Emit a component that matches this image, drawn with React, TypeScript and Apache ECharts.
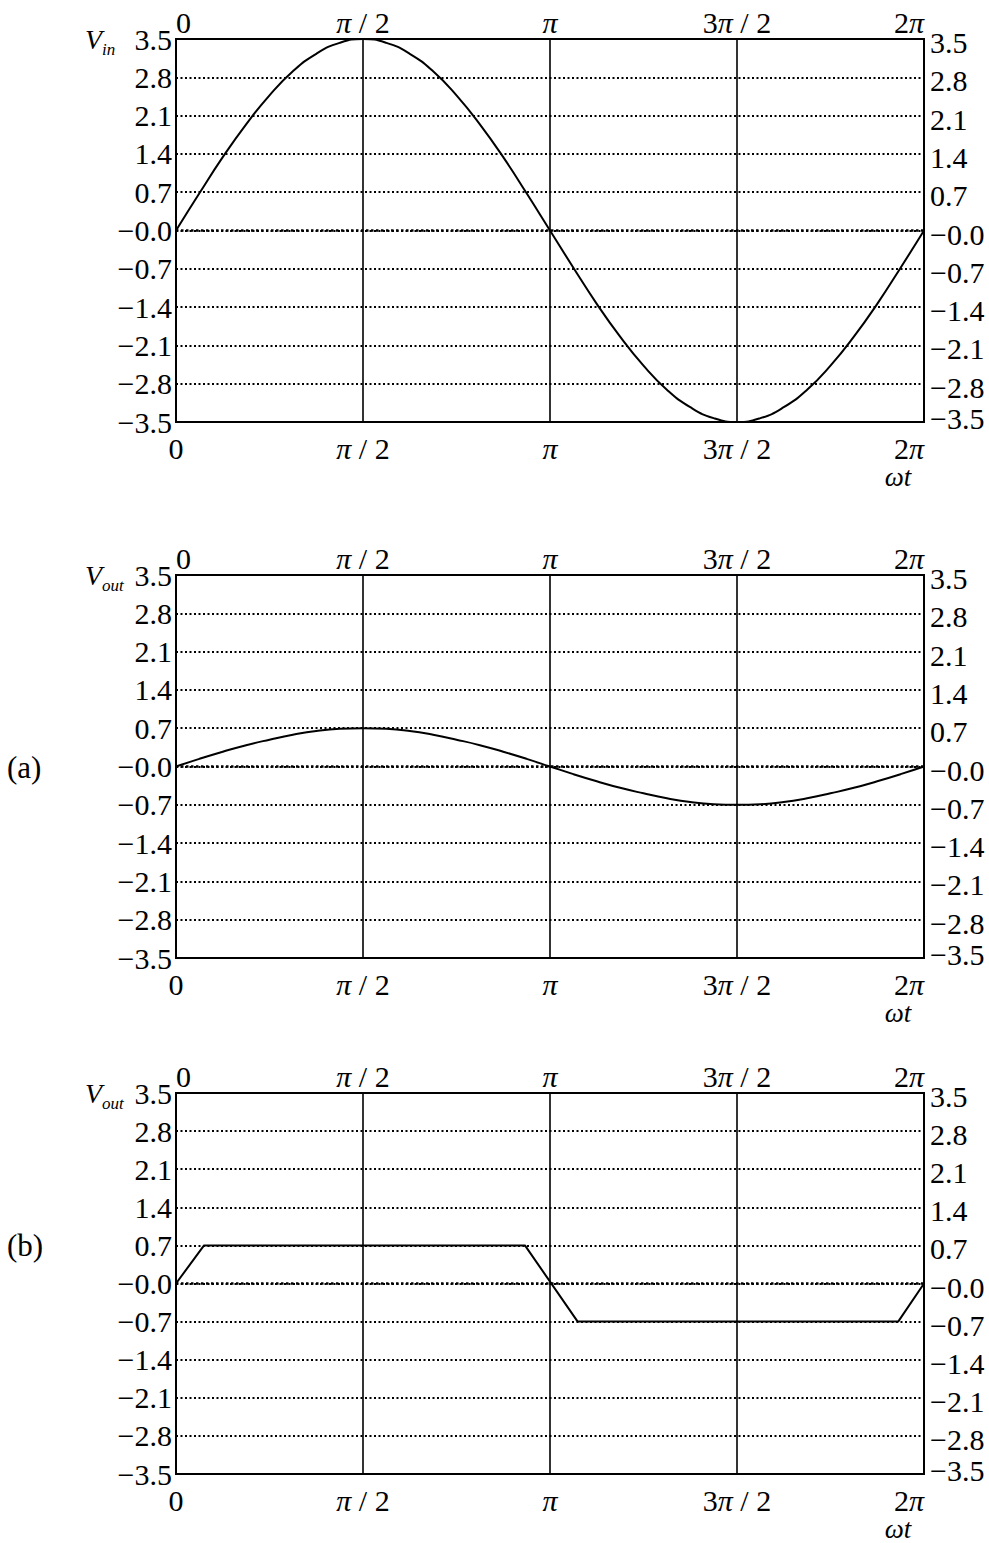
import React, { useEffect, useRef } from 'react';
import * as echarts from 'echarts';

// x positions in units of π
const phaseSine = [0, 0.0625, 0.125, 0.1875, 0.25, 0.3125, 0.375, 0.4375, 0.5, 0.5625, 0.625, 0.6875, 0.75, 0.8125, 0.875, 0.9375, 1, 1.0625, 1.125, 1.1875, 1.25, 1.3125, 1.375, 1.4375, 1.5, 1.5625, 1.625, 1.6875, 1.75, 1.8125, 1.875, 1.9375, 2];
const vin = [0, 0.68, 1.34, 1.94, 2.47, 2.91, 3.23, 3.43, 3.5, 3.43, 3.23, 2.91, 2.47, 1.94, 1.34, 0.68, 0, -0.68, -1.34, -1.94, -2.47, -2.91, -3.23, -3.43, -3.5, -3.43, -3.23, -2.91, -2.47, -1.94, -1.34, -0.68, 0];
const voutA = [0, 0.14, 0.27, 0.39, 0.49, 0.58, 0.65, 0.69, 0.7, 0.69, 0.65, 0.58, 0.49, 0.39, 0.27, 0.14, 0, -0.14, -0.27, -0.39, -0.49, -0.58, -0.65, -0.69, -0.7, -0.69, -0.65, -0.58, -0.49, -0.39, -0.27, -0.14, 0];
const phaseClip = [0, 0.075, 0.933, 1.074, 1.931, 2];
const voutB = [0, 0.7, 0.7, -0.7, -0.7, 0];

const xTickLabels = ['0', '{i|π} / 2', '{i|π}', '3{i|π} / 2', '2{i|π}'];
const panelLabels = ['', '(a)', '(b)'];
const yLabelNames = ['in', 'out', 'out'];
const xAxisName = 'ωt';

const FONT = 'Liberation Serif';
const FS = 30;

const panels = [
  { top: 39, height: 383, x: phaseSine, y: vin, smooth: true },
  { top: 575, height: 383, x: phaseSine, y: voutA, smooth: true },
  { top: 1093, height: 381, x: phaseClip, y: voutB, smooth: false },
];
const LEFT = 176;
const WIDTH = 748;

const fmtY = (v: number) => {
  const r = Math.round(v * 10) / 10;
  if (r <= 0) return '\u2212' + Math.abs(r).toFixed(1);
  return r.toFixed(1);
};
const fmtX = (v: number) => xTickLabels[Math.round(v / 0.5)] ?? '';

export default function App() {
  const ref = useRef<HTMLDivElement>(null);
  useEffect(() => {
    if (!ref.current) return;
    const chart = echarts.init(ref.current, null, { renderer: 'svg' });
    const rich = { i: { fontStyle: 'italic', fontFamily: FONT, fontSize: FS, color: '#000' } };
    const grids: any[] = [];
    const xAxes: any[] = [];
    const yAxes: any[] = [];
    const series: any[] = [];
    const graphics: any[] = [];
    panels.forEach((p, k) => {
      grids.push({ left: LEFT, top: p.top, width: WIDTH, height: p.height, show: true, borderColor: '#000', borderWidth: 2, containLabel: false });
      const baseX = {
        type: 'value', gridIndex: k, min: 0, max: 2, interval: 0.5,
        axisLine: { show: false }, axisTick: { show: false },
      };
      xAxes.push({
        ...baseX, position: 'bottom',
        splitLine: { show: true, lineStyle: { color: '#000', width: 1.6, type: 'solid' } },
        axisLabel: { show: true, showMinLabel: true, showMaxLabel: true, margin: 11, formatter: fmtX, color: '#000', fontFamily: FONT, fontSize: FS, rich, alignMaxLabel: 'right' },
      });
      xAxes.push({
        ...baseX, position: 'top',
        splitLine: { show: false },
        axisLabel: { show: true, showMinLabel: true, showMaxLabel: true, margin: 2, formatter: fmtX, color: '#000', fontFamily: FONT, fontSize: FS, rich, alignMinLabel: 'left', alignMaxLabel: 'right' },
      });
      const baseY = {
        type: 'value', gridIndex: k, min: -3.5, max: 3.5, interval: 0.7,
        axisLine: { show: false }, axisTick: { show: false },
      };
      yAxes.push({
        ...baseY, position: 'left',
        splitLine: { show: true, lineStyle: { color: '#000', width: 2, type: [2, 2.5] } },
        axisLabel: { show: true, showMinLabel: true, showMaxLabel: true, margin: 4, formatter: fmtY, color: '#000', fontFamily: FONT, fontSize: FS },
      });
      const rs = { fontFamily: FONT, fontSize: FS, color: '#000', lineHeight: 30 };
      yAxes.push({
        ...baseY, position: 'right',
        splitLine: { show: false },
        axisLabel: {
          show: true, showMinLabel: true, showMaxLabel: true, margin: 6, color: '#000', fontFamily: FONT, fontSize: FS,
          formatter: (v: number) => {
            const s = fmtY(v);
            if (Math.abs(v + 3.5) < 1e-6) return `{up|${s}}`;
            return `{dn|${s}}`;
          },
          rich: {
            up: { ...rs, padding: [0, 0, 7, 0] },
            dn: { ...rs, padding: [7, 0, 0, 0] },
          },
        },
      });
      series.push({
        type: 'line', xAxisIndex: k * 2, yAxisIndex: k * 2,
        data: p.x.map((xv, i) => [xv, p.y[i]]),
        showSymbol: false, symbol: 'none', smooth: p.smooth,
        lineStyle: { color: '#000', width: 2 },
        markLine: {
          silent: true, symbol: 'none', label: { show: false },
          lineStyle: { color: '#000', width: 2.6, type: [2.5, 2.5] },
          data: [{ yAxis: 0 }],
        },
        z: 5,
      });
      const bottom = p.top + p.height;
      graphics.push({ type: 'text', x: 85, y: p.top, style: { text: 'V', fill: '#000', font: `italic 28px ${FONT}`, align: 'left', verticalAlign: 'middle' } });
      graphics.push({ type: 'text', x: 102, y: p.top + 10, style: { text: yLabelNames[k], fill: '#000', font: `italic 17px ${FONT}`, align: 'left', verticalAlign: 'middle' } });
      graphics.push({ type: 'text', x: 898, y: bottom + 55, style: { text: xAxisName, fill: '#000', font: `italic 27px ${FONT}`, align: 'center', verticalAlign: 'middle' } });
      if (panelLabels[k]) {
        const ly = k === 1 ? 767 : 1245;
        graphics.push({ type: 'text', x: 7, y: ly, style: { text: panelLabels[k], fill: '#000', font: `31px ${FONT}`, align: 'left', verticalAlign: 'middle' } });
      }
    });
    chart.setOption({
      animation: false,
      backgroundColor: '#fff',
      grid: grids,
      xAxis: xAxes,
      yAxis: yAxes,
      series,
      graphic: graphics,
    });
    return () => chart.dispose();
  }, []);
  return <div ref={ref} style={{ position: 'absolute', left: 0, top: 0, width: 989, height: 1543 }} />;
}
